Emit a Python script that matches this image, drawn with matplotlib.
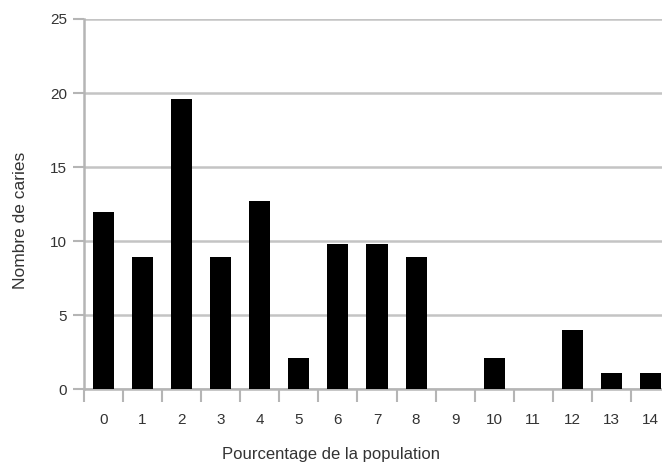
import matplotlib
matplotlib.use("Agg")
import matplotlib.pyplot as plt
import numpy as np

categories = ["0", "1", "2", "3", "4", "5", "6", "7", "8", "9", "10", "11", "12", "13", "14"]
values = [12, 8.9, 19.6, 8.9, 12.7, 2.1, 9.8, 9.8, 8.9, 0, 2.1, 0, 4, 1.1, 1.1]
yticks = [0, 5, 10, 15, 20, 25]

plt.rcParams['font.family'] = ['Liberation Sans', 'DejaVu Sans']

fig = plt.figure(figsize=(6.62, 4.66), dpi=100)
ax_h = 389.3 - 19
ax_w = 586
ax = fig.add_axes([84 / 662, 1 - 389.3 / 466, ax_w / 662, ax_h / 466])

x = np.arange(len(categories))
ax.bar(x, values, width=0.54, color='black', zorder=3)

ax.set_xlim(-0.5, len(categories) - 0.5)
ax.set_ylim(0, 25)
ax.set_yticks(yticks)
ax.set_yticklabels([str(v) for v in yticks])
ax.yaxis.grid(True, color='#c4c4c4', linewidth=1.8, zorder=0)
ax.set_axisbelow(True)

ax.set_xticks(x)
ax.set_xticklabels(categories)
ax.set_xticks(np.arange(-0.5, len(categories), 1), minor=True)
ax.tick_params(axis='x', which='major', length=0, pad=17, labelsize=11, labelcolor='#333333')
ax.tick_params(axis='x', which='minor', length=9, width=1.5, color='#b5b5b5')
ax.tick_params(axis='y', length=8, width=1.5, color='#b5b5b5', pad=4, labelsize=11, labelcolor='#333333')

for s in ['top', 'right']:
    ax.spines[s].set_visible(False)
ax.spines['left'].set_color('#b5b5b5')
ax.spines['left'].set_linewidth(1.8)
ax.spines['bottom'].set_color('#b5b5b5')
ax.spines['bottom'].set_linewidth(1.8)

ax.set_xlabel("Pourcentage de la population", fontsize=12, color='#333333')
ax.set_ylabel("Nombre de caries", fontsize=12.5, color='#333333')
ax.xaxis.set_label_coords((331 - 84) / ax_w, -(454 - 389.3) / ax_h)
ax.xaxis.label.set_va('center')
ax.yaxis.set_label_coords(-(84 - 20) / ax_w, (389.3 - 220) / ax_h)
ax.yaxis.label.set_va('center')

fig.savefig("out.png", dpi=100)
